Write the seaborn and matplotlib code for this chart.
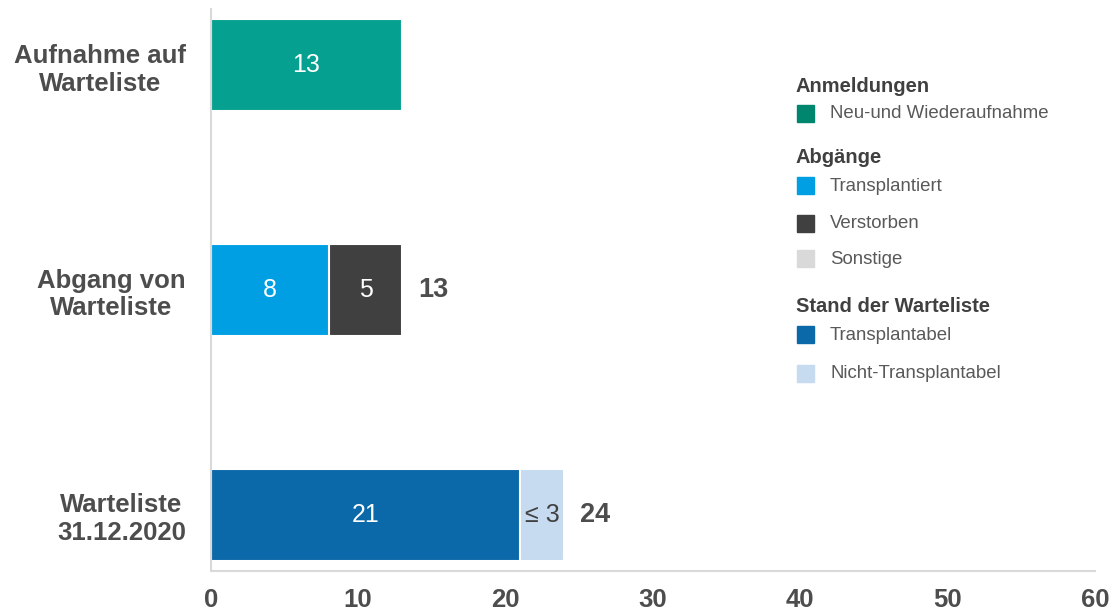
import numpy as np
import pandas as pd
import matplotlib
matplotlib.use("Agg")
import matplotlib.pyplot as plt
from matplotlib.patches import Rectangle
import seaborn as sns

# data
categories = ["Aufnahme auf\nWarteliste", "Abgang von\nWarteliste", "Warteliste\n31.12.2020"]
segments = ["Neu-und Wiederaufnahme", "Transplantiert", "Verstorben", "Sonstige",
            "Transplantabel", "Nicht-Transplantabel"]
seg_colors = ["#05A08F", "#009FE3", "#404040", "#D9D9D9", "#0C69A9", "#C6DBEF"]
legend_colors = ["#00866F", "#009FE3", "#404040", "#D9D9D9", "#0C69A9", "#C6DBEF"]
seg_text_colors = ["white", "white", "white", "#404040", "white", "#404040"]

neu = [13, 0, 0]
transplantiert = [0, 8, 0]
verstorben = [0, 5, 0]
sonstige = [0, 0, 0]
transplantabel = [0, 0, 21]
nicht_transplantabel = [0, 0, 3]
values = [neu, transplantiert, verstorben, sonstige, transplantabel, nicht_transplantabel]
# label shown inside a segment (privacy masking for small counts)
seg_labels = {("Warteliste\n31.12.2020", "Nicht-Transplantabel"): "≤ 3"}
totals = [None, 13, 24]

legend_groups = [("Anmeldungen", [0]), ("Abgänge", [1, 2, 3]),
                 ("Stand der Warteliste", [4, 5])]

# long table with left edge / cumulative end per segment
rows = []
for ci, cat in enumerate(categories):
    left = 0
    for si, seg in enumerate(segments):
        v = values[si][ci]
        if v > 0:
            rows.append(dict(cat=cat, seg=seg, si=si, value=v, left=left, end=left + v))
            left += v
df = pd.DataFrame(rows)

sns.set_style("white")
plt.rcParams["font.family"] = ["Liberation Sans", "DejaVu Sans"]
dark = "#4D4D4D"

fig = plt.figure(figsize=(11.15, 6.15), dpi=100)
ax = fig.add_axes([0.189, 0.0715, 0.793, 0.9135])

# stacked bars: draw cumulative ends from last segment to first so earlier ones overlay
for si in reversed(range(len(segments))):
    sub = df[df["si"] == si]
    if sub.empty:
        continue
    sns.barplot(data=sub, x="end", y="cat", order=categories, orient="h",
                color=seg_colors[si], saturation=1, width=0.41, errorbar=None,
                edgecolor="white", linewidth=1.5, ax=ax)

# segment labels
for _, r in df.iterrows():
    ci = categories.index(r["cat"])
    txt = seg_labels.get((r["cat"], r["seg"]), str(int(r["value"])))
    ax.text(r["left"] + r["value"] / 2, ci, txt, ha="center", va="center",
            fontsize=18, color=seg_text_colors[r["si"]])

# totals
for ci, t in enumerate(totals):
    if t is not None:
        ax.text(t + 1.05, ci, str(t), ha="left", va="center", fontsize=19.5,
                fontweight="bold", color=dark)

ax.set_xlim(0, 60)
ax.set_ylim(2.25, -0.25)
ax.set_xticks(np.arange(0, 61, 10))
ax.set_xlabel("")
ax.set_ylabel("")
ax.tick_params(axis="x", length=0, pad=12, labelsize=18.5, labelcolor=dark)
ax.tick_params(axis="y", length=0, pad=18, labelsize=18.5, labelcolor=dark)
for lab in ax.get_xticklabels():
    lab.set_fontweight("bold")
for lab in ax.get_yticklabels():
    lab.set_fontweight("bold")
    lab.set_multialignment("center")

for s in ["top", "right"]:
    ax.spines[s].set_visible(False)
for s in ["left", "bottom"]:
    ax.spines[s].set_color("#D9D9D9")
    ax.spines[s].set_linewidth(1.5)
    ax.spines[s].set_zorder(5)

# grouped legend on the right
y_pos = {"Anmeldungen": 86, "Abgänge": 157, "Stand der Warteliste": 306}
item_y = [114, 186, 224, 259, 335, 374]
W, H = 1115, 615
for title, idxs in legend_groups:
    fig.text(796 / W, 1 - y_pos[title] / H, title, fontsize=14.5, fontweight="bold",
             color="#404040", va="center", ha="left")
    for si in idxs:
        yc = item_y[si]
        fig.patches.append(Rectangle((797 / W, 1 - (yc + 8) / H), 17 / W, 17 / H,
                                     transform=fig.transFigure, color=legend_colors[si]))
        fig.text(830 / W, 1 - yc / H, segments[si], fontsize=13.4, color="#595959",
                 va="center", ha="left")

fig.savefig("out.png", dpi=100)
